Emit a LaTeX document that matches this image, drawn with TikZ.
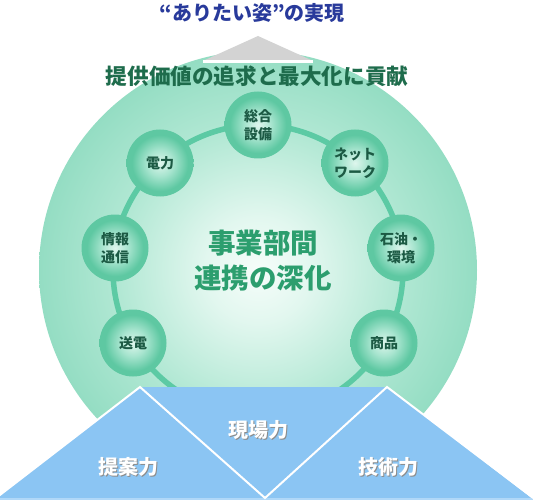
\documentclass[tikz,border=0pt]{standalone}
\usepackage{fontspec}
\setmainfont{Noto Sans CJK JP}
\definecolor{titleblue}{RGB}{40,58,155}
\definecolor{subgreen}{RGB}{30,108,76}
\definecolor{midgreen}{RGB}{44,158,110}
\definecolor{nodetext}{RGB}{28,90,68}
\definecolor{ringc}{RGB}{92,202,164}
\definecolor{bgA}{RGB}{246,253,250}
\definecolor{bgB}{RGB}{226,247,239}
\definecolor{bgC}{RGB}{178,232,212}
\definecolor{bgD}{RGB}{148,221,195}
\definecolor{smA}{RGB}{222,246,237}
\definecolor{smB}{RGB}{166,228,206}
\definecolor{smC}{RGB}{94,200,162}
\definecolor{greytri}{RGB}{211,211,211}
\definecolor{pyrblue}{RGB}{139,197,243}
\definecolor{pyrlight}{RGB}{176,216,248}
\pgfdeclareradialshading{bigglow}{\pgfpoint{0bp}{0bp}}{color(0bp)=(bgA); color(6bp)=(bgB); color(16bp)=(bgC); color(25bp)=(bgD); color(50bp)=(bgD)}
\pgfdeclareradialshading{smallglow}{\pgfpoint{0bp}{0bp}}{color(0bp)=(smA); color(10bp)=(smB); color(21bp)=(smC); color(25bp)=(smC); color(50bp)=(smC)}
\tikzset{
  unitnode/.style={circle, minimum size=67pt, inner sep=0pt, shade, shading=smallglow,
    text=nodetext, font=\bfseries\fontsize{14}{18}\selectfont, align=center},
  pyrlabel/.style={text=white, font=\bfseries\fontsize{20}{24}\selectfont, inner sep=0pt},
  pyrshadow/.style={text=black!45, font=\bfseries\fontsize{20}{24}\selectfont, inner sep=0pt},
  whiteline/.style={draw=white, line width=2pt, line join=miter}
}
\begin{document}
\begin{tikzpicture}[x=1pt,y=-1pt]
\useasboundingbox (0,0) rectangle (533,500);
% big circle
\node[circle, minimum size=438pt, inner sep=0pt, shade, shading=bigglow] (big) at (258,270) {};
% grey triangle
\fill[greytri] (258,36) -- (311,60) -- (205,60) -- cycle;
\draw[white, line width=3pt] (203,61.5) -- (313,61.5);
% ring
\node[circle, draw=ringc, line width=5.5pt, minimum size=290pt, inner sep=0pt] (ring) at (258,270) {};
% units
\node[unitnode] (sogo) at (258,125) {総合\\設備};
\node[unitnode] (denryoku) at (160,163) {電力};
\node[unitnode] (net) at (355,163) {ネット\\ワーク};
\node[unitnode] (joho) at (115,248) {情報\\通信};
\node[unitnode] (sekiyu) at (401,248) {石油・\\環境};
\node[unitnode] (soden) at (133,343) {送電};
\node[unitnode] (shohin) at (384,343) {商品};
% texts
\node[text=titleblue, font=\bfseries\fontsize{20}{24}\selectfont] (title) at (252,13) {“ありたい姿”の実現};
\node[text=subgreen, font=\bfseries\fontsize{21.6}{25}\selectfont] (sub) at (257,76) {提供価値の追求と最大化に貢献};
\node[text=midgreen, font=\bfseries\fontsize{27.5}{35}\selectfont, align=center] (center) at (263,261) {事業部間\\連携の深化};
% pyramid
\fill[pyrblue] (140,387) -- (387,387) -- (534,500) -- (-6,500) -- cycle;
\draw[pyrlight, line width=1.5pt] (-4,499) -- (533,499);
\draw[whiteline] (-4,498) -- (140,387) -- (265,498) -- (387,387) -- (536,500);
% pyramid labels
\node[pyrshadow] (genbas) at (259.2,431.2) {現場力};
\node[pyrlabel] (genba) at (258,430) {現場力};
\node[pyrshadow] (teians) at (129.2,468.2) {提案力};
\node[pyrlabel] (teian) at (128,467) {提案力};
\node[pyrshadow] (gijutsus) at (389.2,468.2) {技術力};
\node[pyrlabel] (gijutsu) at (388,467) {技術力};
\end{tikzpicture}
\end{document}
